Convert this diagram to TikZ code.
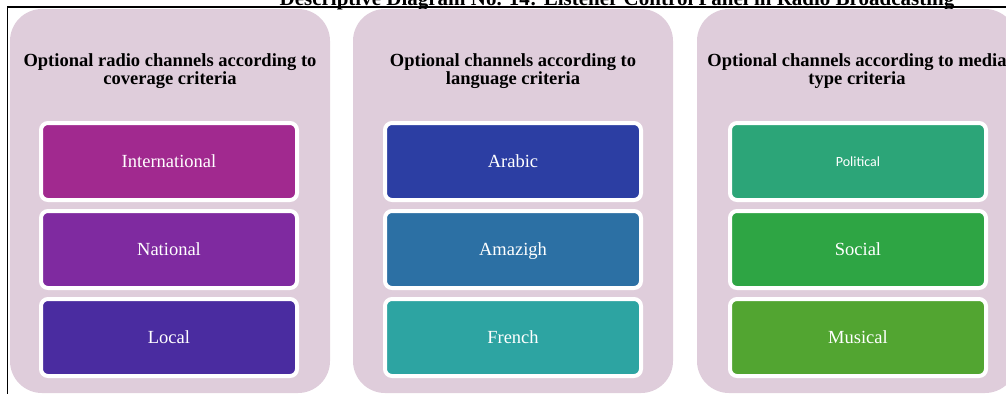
\documentclass[tikz,border=0pt]{standalone}
\usepackage{fontspec}
\setmainfont{Liberation Serif}
\newfontfamily\labelsans{Carlito}
\definecolor{panelfill}{RGB}{223,205,219}
\definecolor{cIntl}{RGB}{161,41,143}
\definecolor{cNat}{RGB}{127,42,160}
\definecolor{cLocal}{RGB}{74,44,160}
\definecolor{cArab}{RGB}{44,62,163}
\definecolor{cAmaz}{RGB}{44,112,164}
\definecolor{cFren}{RGB}{45,164,162}
\definecolor{cPol}{RGB}{44,165,120}
\definecolor{cSoc}{RGB}{46,165,68}
\definecolor{cMus}{RGB}{82,165,49}
\tikzset{
  panelbox/.style={fill=panelfill, rounded corners=32pt, minimum width=320pt, minimum height=384pt, inner sep=0pt},
  header/.style={align=center, font=\fontsize{18.5}{18}\selectfont\bfseries, inner sep=0pt},
  itembox/.style={draw=white, line width=4pt, rounded corners=7pt, minimum width=256pt, minimum height=77pt,
    inner sep=0pt, text=white, text height=12pt, text depth=0pt, font=\fontsize{18.5}{22}\selectfont},
  frameline/.style={line width=1.4pt, black}
}
\begin{document}
\begin{tikzpicture}[x=1pt,y=-1pt]
\useasboundingbox (0,0) rectangle (1006,394);
\clip (0,0) rectangle (1006,394);

% caption, partly above the page edge
\node[anchor=base, inner sep=0pt, font=\fontsize{21}{24}\selectfont\bfseries] (title) at (617,5)
  {Descriptive Diagram No. 14: Listener Control Panel in Radio Broadcasting};

% outer frame
\draw[frameline] (1006,7) -- (7.5,7) -- (7.5,394);

% three column panels
\node[panelbox] (p1) at (170,201) {};
\node[panelbox] (p2) at (513,201) {};
\node[panelbox] (p3) at (857,201) {};

% column headings
\node[header] (h1) at (170,71) {Optional radio channels according to\\coverage criteria};
\node[header] (h2) at (513,71) {Optional channels according to\\language criteria};
\node[header] (h3) at (857,71) {Optional channels according to media\\type criteria};

% coverage
\node[itembox, fill=cIntl] (b11) at (169,161.5) {International};
\node[itembox, fill=cNat]  (b12) at (169,249.5) {National};
\node[itembox, fill=cLocal](b13) at (169,337.5) {Local};

% language
\node[itembox, fill=cArab] (b21) at (513,161.5) {Arabic};
\node[itembox, fill=cAmaz] (b22) at (513,249.5) {Amazigh};
\node[itembox, fill=cFren] (b23) at (513,337.5) {French};

% media type
\node[itembox, fill=cPol, text height=9pt, font=\labelsans\fontsize{14}{16}\selectfont] (b31) at (858,161.5) {Political};
\node[itembox, fill=cSoc]  (b32) at (858,249.5) {Social};
\node[itembox, fill=cMus]  (b33) at (858,337.5) {Musical};
\end{tikzpicture}
\end{document}
